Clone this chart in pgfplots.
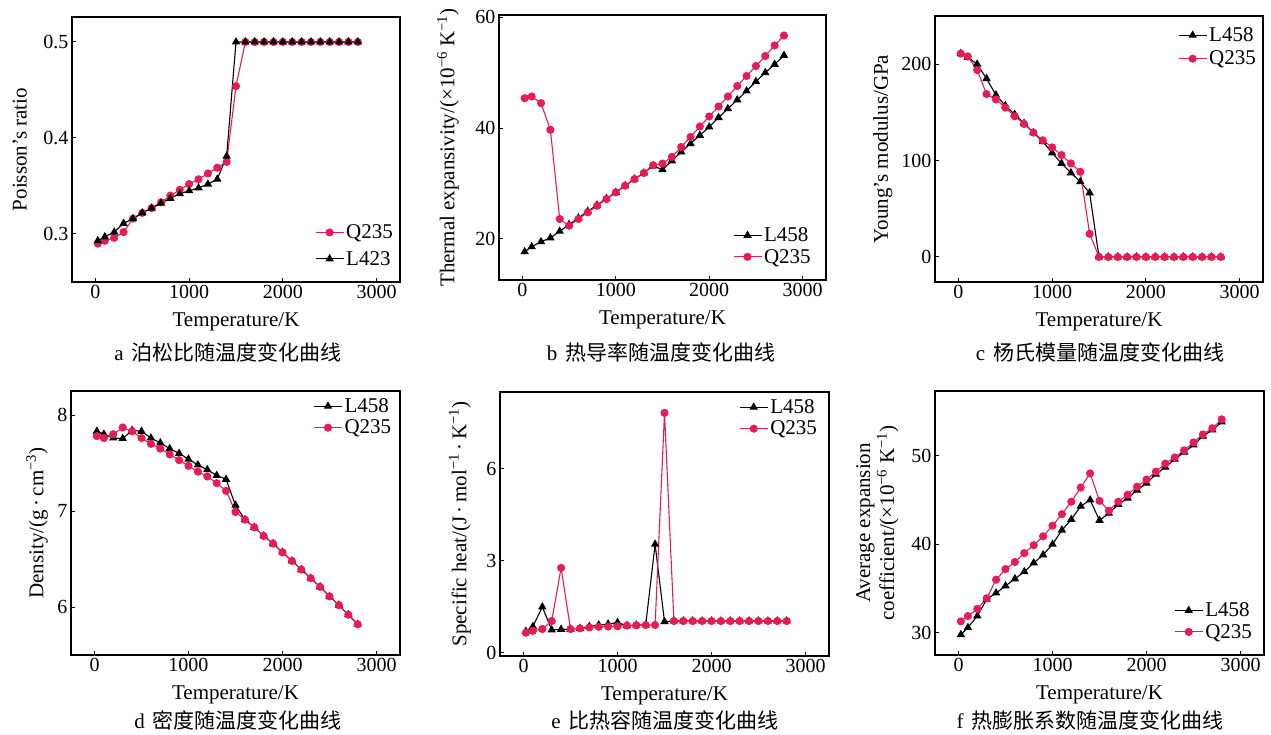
\documentclass[border=0pt]{standalone}
\usepackage{fontspec}
\setmainfont{Liberation Serif}
\newfontfamily\cjk{Noto Sans CJK SC}
\usepackage{pgfplots}
\usepackage{pgfplotstable}
\pgfplotsset{compat=1.18}
\definecolor{qred}{RGB}{232,28,84}

\pgfplotstableread{
T L Q
25 0.293 0.290
100 0.297 0.293
200 0.302 0.296
300 0.311 0.302
400 0.316 0.316
500 0.322 0.322
600 0.327 0.327
700 0.332 0.333
800 0.337 0.340
900 0.342 0.346
1000 0.345 0.352
1100 0.348 0.357
1200 0.352 0.363
1300 0.357 0.369
1400 0.381 0.375
1500 0.5 0.454
1600 0.5 0.5
1700 0.5 0.5
1800 0.5 0.5
1900 0.5 0.5
2000 0.5 0.5
2100 0.5 0.5
2200 0.5 0.5
2300 0.5 0.5
2400 0.5 0.5
2500 0.5 0.5
2600 0.5 0.5
2700 0.5 0.5
2800 0.5 0.5
}\tA

\pgfplotstableread{
T L Q
25 17.7 45.4
100 18.6 45.7
200 19.5 44.5
300 20.2 39.7
400 21.4 23.6
500 22.6 22.4
600 23.8 23.6
700 25.0 24.8
800 26.1 26.0
900 27.3 27.2
1000 28.4 28.4
1100 29.6 29.6
1200 30.8 30.8
1300 31.9 31.9
1400 33.2 33.3
1500 32.5 33.6
1600 34.1 34.8
1700 35.7 36.6
1800 37.2 38.4
1900 38.7 40.3
2000 40.2 42.1
2100 41.9 43.9
2200 43.5 45.7
2300 45.1 47.6
2400 46.7 49.4
2500 48.4 51.2
2600 50.0 53.0
2700 51.5 54.9
2800 53.1 56.7
}\tB

\pgfplotstableread{
T L Q
25 211 211
100 207 208
200 200 194
300 185 169
400 168 163.5
500 157 155
600 148 146
700 138.6 138
800 129 129
900 119.6 121
1000 108 113.7
1100 97 105.7
1200 87.3 97
1300 78 88.4
1400 66.5 24
1500 0 0
1600 0 0
1700 0 0
1800 0 0
1900 0 0
2000 0 0
2100 0 0
2200 0 0
2300 0 0
2400 0 0
2500 0 0
2600 0 0
2700 0 0
2800 0 0
}\tC

\pgfplotstableread{
T L Q
25 7.83 7.78
100 7.80 7.76
200 7.76 7.80
300 7.755 7.87
400 7.84 7.83
500 7.83 7.76
600 7.76 7.70
700 7.71 7.65
800 7.65 7.59
900 7.60 7.53
1000 7.54 7.47
1100 7.48 7.41
1200 7.43 7.36
1300 7.37 7.29
1400 7.33 7.21
1500 7.06 6.99
1600 6.91 6.91
1700 6.83 6.83
1800 6.74 6.74
1900 6.66 6.66
2000 6.57 6.57
2100 6.48 6.48
2200 6.39 6.39
2300 6.30 6.30
2400 6.21 6.21
2500 6.11 6.11
2600 6.02 6.02
2700 5.92 5.92
2800 5.82 5.82
}\tD

\pgfplotstableread{
T L Q
25 0.70 0.66
100 0.86 0.72
200 1.5 0.78
300 0.75 1.04
400 0.77 2.77
500 0.77 0.78
600 0.80 0.80
700 0.86 0.83
800 0.91 0.85
900 0.94 0.86
1000 0.99 0.87
1100 0.89 0.89
1200 0.91 0.90
1300 0.91 0.91
1400 3.54 0.91
1500 1.02 7.82
1600 1.04 1.04
1700 1.04 1.04
1800 1.04 1.04
1900 1.04 1.04
2000 1.04 1.04
2100 1.04 1.04
2200 1.04 1.04
2300 1.04 1.04
2400 1.04 1.04
2500 1.04 1.04
2600 1.04 1.04
2700 1.04 1.04
2800 1.04 1.04
}\tE

\pgfplotstableread{
T L Q
25 29.8 31.3
100 30.6 31.9
200 31.9 32.7
300 33.8 33.9
400 34.5 36.0
500 35.3 37.2
600 36.1 38.0
700 36.9 39.0
800 37.9 39.9
900 38.8 40.9
1000 40.0 42.1
1100 41.6 43.4
1200 42.8 44.8
1300 44.3 46.4
1400 45.0 48.0
1500 42.7 44.9
1600 43.5 43.8
1700 44.5 44.8
1800 45.2 45.6
1900 46.1 46.5
2000 46.9 47.3
2100 47.9 48.2
2200 48.7 49.1
2300 49.6 49.8
2400 50.4 50.6
2500 51.2 51.5
2600 52.2 52.4
2700 52.9 53.1
2800 53.8 54.1
}\tF

\pgfplotsset{
 panel/.style={
   scale only axis, width=328pt, height=265pt, anchor=north west,
   xmin=-250, xmax=3250, xtick={0,1000,2000,3000},
   tick align=inside, xtick pos=left, ytick pos=left,
   major tick length=4pt,
   axis line style={line width=1.3pt},
   tick style={line width=1pt, black},
   every tick label/.append style={font=\fontsize{20}{23}\selectfont},
   /pgf/number format/assume math mode=true,
   /pgf/number format/1000 sep={},
   label style={font=\fontsize{21}{24}\selectfont},
   xlabel={Temperature/K},
   xlabel style={at={(axis description cs:0.5,0)}, anchor=center, yshift=-40pt},
   legend style={draw=none, fill=none, font=\fontsize{21}{24}\selectfont, inner sep=0pt, row sep=2pt},
   legend cell align=left,
   legend image code/.code={\draw[mark repeat=2,mark phase=2] plot coordinates {(0pt,0pt) (14pt,0pt) (28pt,0pt)};},
 },
 qq/.style={qred, line width=1.1pt, mark=*, mark size=3.5pt, mark options={fill=qred, draw=qred}},
 ll/.style={black, line width=1.1pt, mark=triangle*, mark size=3.8pt, mark options={fill=black}},
}
\tikzset{capt/.style={font=\fontsize{21}{24}\selectfont}}

\begin{document}
\begin{tikzpicture}
\path (0,0) rectangle (1271pt,-734pt);

% a
\begin{axis}[panel, at={(72pt,-17pt)},
  ymin=0.25, ymax=0.526, ytick={0.3,0.4,0.5},
  ylabel={Poisson's ratio},
  ylabel style={at={(axis description cs:-0.159,0.5)}, anchor=center},
  legend style={at={(axis description cs:0.985,0.05)}, anchor=south east, row sep=7pt}]
\addplot[qq] table[x=T,y=Q]{\tA};
\addlegendentry{Q235}
\addplot[ll] table[x=T,y=L]{\tA};
\addlegendentry{L423}
\end{axis}
\node[capt] at (228pt,-352pt) {a\hspace{8pt}{\cjk 泊松比随温度变化曲线}};

% b
\begin{axis}[panel, at={(499pt,-15pt)}, width=327pt,
  ymin=12.6, ymax=60.4, ytick={20,40,60},
  ylabel={Thermal expansivity/(×10\textsuperscript{−6} K\textsuperscript{−1})},
  ylabel style={at={(axis description cs:-0.156,0.5)}, anchor=center},
  legend style={at={(axis description cs:0.96,0.05)}, anchor=south east}]
\addplot[ll] table[x=T,y=L]{\tB};
\addlegendentry{L458}
\addplot[qq] table[x=T,y=Q]{\tB};
\addlegendentry{Q235}
\end{axis}
\node[capt] at (661pt,-352pt) {b\hspace{8pt}{\cjk 热导率随温度变化曲线}};

% c
\begin{axis}[panel, at={(935pt,-16pt)}, height=266pt,
  ymin=-26, ymax=250, ytick={0,100,200},
  ylabel={Young's modulus/GPa},
  ylabel style={at={(axis description cs:-0.159,0.5)}, anchor=center},
  legend style={at={(axis description cs:0.985,0.965)}, anchor=north east, row sep=4pt}]
\addplot[ll] table[x=T,y=L]{\tC};
\addlegendentry{L458}
\addplot[qq] table[x=T,y=Q]{\tC};
\addlegendentry{Q235}
\end{axis}
\node[capt] at (1100pt,-352pt) {c\hspace{8pt}{\cjk 杨氏模量随温度变化曲线}};

% d
\begin{axis}[panel, at={(71pt,-391pt)}, width=329pt, height=264pt,
  ymin=5.5, ymax=8.25, ytick={6,7,8},
  ylabel={Density/(g\,·\,cm\textsuperscript{−3})},
  ylabel style={at={(axis description cs:-0.103,0.5)}, anchor=center},
  legend style={at={(axis description cs:0.98,0.98)}, anchor=north east}]
\addplot[ll] table[x=T,y=L]{\tD};
\addlegendentry{L458}
\addplot[qq] table[x=T,y=Q]{\tD};
\addlegendentry{Q235}
\end{axis}
\node[capt] at (238pt,-720pt) {d\hspace{8pt}{\cjk 密度随温度变化曲线}};

% e
\begin{axis}[panel, at={(500pt,-392pt)}, width=329pt, height=264pt,
  ymin=-0.1, ymax=8.5, ytick={0,3,6},
  ylabel={Specific heat/(J\,·\,mol\textsuperscript{−1}\,·\,K\textsuperscript{−1})},
  ylabel style={at={(axis description cs:-0.122,0.5)}, anchor=center},
  legend style={at={(axis description cs:0.97,0.98)}, anchor=north east}]
\addplot[ll] table[x=T,y=L]{\tE};
\addlegendentry{L458}
\addplot[qq] table[x=T,y=Q]{\tE};
\addlegendentry{Q235}
\end{axis}
\node[capt] at (665pt,-720pt) {e\hspace{8pt}{\cjk 比热容随温度变化曲线}};

% f
\begin{axis}[panel, at={(935pt,-391pt)}, width=329pt, height=264pt,
  ymin=27.5, ymax=57.3, ytick={30,40,50},
  ylabel={Average expansion\\coefficient/(×10\textsuperscript{−6} K\textsuperscript{−1})},
  ylabel style={at={(axis description cs:-0.175,0.5)}, anchor=center, align=center},
  legend style={at={(axis description cs:0.97,0.05)}, anchor=south east}]
\addplot[ll] table[x=T,y=L]{\tF};
\addlegendentry{L458}
\addplot[qq] table[x=T,y=Q]{\tF};
\addlegendentry{Q235}
\end{axis}
\node[capt] at (1090pt,-720pt) {f\hspace{8pt}{\cjk 热膨胀系数随温度变化曲线}};
\end{tikzpicture}
\end{document}
